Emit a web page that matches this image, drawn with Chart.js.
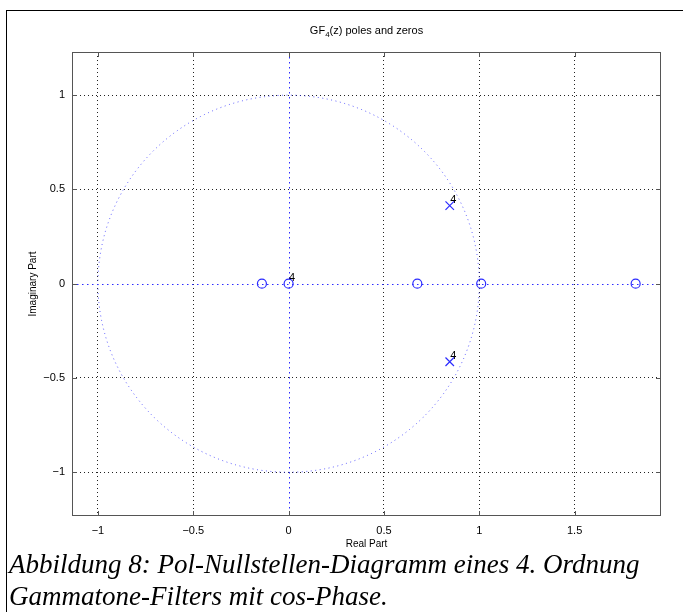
<!DOCTYPE html>
<html>
<head>
<meta charset="utf-8">
<script src="https://cdn.jsdelivr.net/npm/chart.js@4.4.1/dist/chart.umd.min.js"></script>
<style>
  html, body { margin: 0; padding: 0; background: #fff; }
  #page { position: relative; width: 683px; height: 612px; overflow: hidden; }
  #frame { position: absolute; left: 6px; top: 10px; width: 690px; height: 620px;
           border-top: 1.5px solid #000; border-left: 1.5px solid #000; }
  #plot { position: absolute; left: 0; top: 0; }
  #caption { position: absolute; left: 9px; top: 548px; font-family: "Liberation Serif", serif;
             font-style: italic; font-size: 27px; line-height: 32px; color: #000; white-space: nowrap; }
</style>
</head>
<body>
<div id="page">
  <div id="frame"></div>
  <canvas id="plot" width="683" height="560"></canvas>
  <div id="caption">Abbildung 8: Pol-Nullstellen-Diagramm eines 4. Ordnung<br>Gammatone-Filters mit cos-Phase.</div>
</div>
<script>
// Zeros (o) and poles (x) in the z-plane
const zeroRe = [-0.14, 0, 0.675, 1.01, 1.82];
const zeroIm = [0, 0, 0, 0, 0];
const poleRe = [0.845, 0.845];
const poleIm = [0.414, -0.414];

// Multiplicity annotations
const multRe = [0, 0.845, 0.845];
const multIm = [0, 0.414, -0.414];
const multText = ['4', '4', '4'];

// Axis ticks and limits
const xTicks = [-1, -0.5, 0, 0.5, 1, 1.5];
const yTicks = [-1, -0.5, 0, 0.5, 1];
const xLimits = [-1.136, 1.953];
const yLimits = [-1.232, 1.229];

const BLUE = '#2b2bff';
const FONT = '"Liberation Sans", Arial, sans-serif';

const fmt = v => (v < 0 ? '\u2212' + Math.abs(v) : String(v));

const zPlanePlugin = {
  id: 'zplane',
  beforeDatasetsDraw(chart) {
    const { ctx, chartArea: a, scales: { x, y } } = chart;
    ctx.save();
    ctx.beginPath();
    ctx.rect(a.left, a.top, a.right - a.left, a.bottom - a.top);
    ctx.clip();
    // unit circle
    const cx = x.getPixelForValue(0), cy = y.getPixelForValue(0);
    const rx = x.getPixelForValue(1) - cx, ry = cy - y.getPixelForValue(1);
    ctx.strokeStyle = 'rgba(40,40,255,0.75)';
    ctx.lineWidth = 1;
    ctx.setLineDash([1, 3.5]);
    ctx.beginPath();
    ctx.ellipse(cx, cy, rx, ry, 0, 0, Math.PI * 2);
    ctx.stroke();
    // real and imaginary axes
    ctx.strokeStyle = BLUE;
    ctx.setLineDash([1.5, 3.5]);
    ctx.beginPath();
    ctx.moveTo(a.left, Math.round(cy) + 0.5);
    ctx.lineTo(a.right, Math.round(cy) + 0.5);
    ctx.moveTo(Math.round(cx) + 0.5, a.top);
    ctx.lineTo(Math.round(cx) + 0.5, a.bottom);
    ctx.stroke();
    ctx.restore();
  },
  afterDraw(chart) {
    const { ctx, chartArea: a, scales: { x, y } } = chart;
    ctx.save();
    // axes box
    ctx.strokeStyle = '#555';
    ctx.lineWidth = 1;
    ctx.setLineDash([]);
    ctx.strokeRect(Math.round(a.left) + 0.5, Math.round(a.top) + 0.5,
                   Math.round(a.right - a.left) - 1, Math.round(a.bottom - a.top) - 1);
    // inward tick marks on all four sides
    const tl = 5;
    ctx.beginPath();
    xTicks.forEach(v => {
      const px = Math.round(x.getPixelForValue(v)) + 0.5;
      ctx.moveTo(px, a.bottom); ctx.lineTo(px, a.bottom - tl);
      ctx.moveTo(px, a.top); ctx.lineTo(px, a.top + tl);
    });
    yTicks.forEach(v => {
      const py = Math.round(y.getPixelForValue(v)) + 0.5;
      ctx.moveTo(a.left, py); ctx.lineTo(a.left + tl, py);
      ctx.moveTo(a.right, py); ctx.lineTo(a.right - tl, py);
    });
    ctx.stroke();
    // multiplicity labels
    ctx.fillStyle = '#000';
    ctx.font = '11px ' + FONT;
    ctx.textAlign = 'left';
    ctx.textBaseline = 'alphabetic';
    multText.forEach((t, i) => {
      ctx.fillText(t, x.getPixelForValue(multRe[i]) + 0.5, y.getPixelForValue(multIm[i]) - 3);
    });
    // title with subscript
    const mid = (a.left + a.right) / 2;
    const p1 = 'GF', sub = '4', p2 = '(z) poles and zeros';
    ctx.font = '11px ' + FONT;
    const w1 = ctx.measureText(p1).width, w3 = ctx.measureText(p2).width;
    ctx.font = '8px ' + FONT;
    const w2 = ctx.measureText(sub).width;
    let sx = mid - (w1 + w2 + w3) / 2;
    const base = 34;
    ctx.font = '11px ' + FONT;
    ctx.fillText(p1, sx, base);
    ctx.font = '8px ' + FONT;
    ctx.fillText(sub, sx + w1, base + 3);
    ctx.font = '11px ' + FONT;
    ctx.fillText(p2, sx + w1 + w2, base);
    ctx.restore();
  }
};

new Chart(document.getElementById('plot'), {
  type: 'scatter',
  data: {
    datasets: [
      {
        label: 'zeros',
        data: zeroRe.map((r, i) => ({ x: r, y: zeroIm[i] })),
        pointStyle: 'circle',
        pointRadius: 4.5,
        borderColor: BLUE,
        backgroundColor: 'rgba(0,0,0,0)',
        borderWidth: 1.2
      },
      {
        label: 'poles',
        data: poleRe.map((r, i) => ({ x: r, y: poleIm[i] })),
        pointStyle: 'crossRot',
        pointRadius: 6,
        borderColor: BLUE,
        borderWidth: 1.2
      }
    ]
  },
  options: {
    responsive: false,
    animation: false,
    events: [],
    layout: { padding: { left: 0, top: 52, right: 22, bottom: 0 } },
    plugins: { legend: { display: false }, tooltip: { enabled: false }, title: { display: false } },
    scales: {
      x: {
        type: 'linear',
        min: xLimits[0], max: xLimits[1],
        afterBuildTicks: s => { s.ticks = xTicks.map(v => ({ value: v })); },
        afterFit: s => { s.height = 44; },
        grid: {
          drawTicks: false,
          color: c => (c.tick && c.tick.value === 0 ? 'rgba(0,0,0,0)' : '#222'),
          lineWidth: 1
        },
        border: { display: false, dash: [1, 3] },
        ticks: { color: '#000', font: { family: FONT, size: 11 }, padding: 8, callback: v => fmt(v) },
        title: { display: true, text: 'Real Part', color: '#000', font: { family: FONT, size: 10 }, padding: { top: 0, bottom: 10 } }
      },
      y: {
        type: 'linear',
        min: yLimits[0], max: yLimits[1],
        afterBuildTicks: s => { s.ticks = yTicks.map(v => ({ value: v })); },
        afterFit: s => { s.width = 72; },
        grid: {
          drawTicks: false,
          color: c => (c.tick && c.tick.value === 0 ? 'rgba(0,0,0,0)' : '#222'),
          lineWidth: 1
        },
        border: { display: false, dash: [1, 3] },
        ticks: { color: '#000', font: { family: FONT, size: 11 }, padding: 7, callback: v => fmt(v) },
        title: { display: true, text: 'Imaginary Part', color: '#000', font: { family: FONT, size: 10 }, padding: { top: 27, bottom: 0 } }
      }
    }
  },
  plugins: [zPlanePlugin]
});
</script>
</body>
</html>
